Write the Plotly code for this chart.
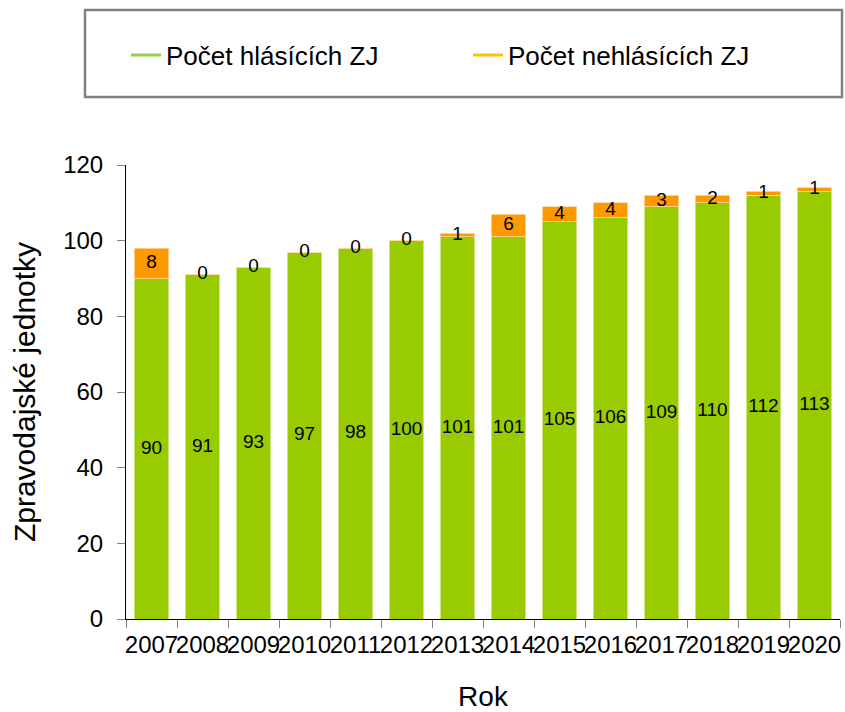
import plotly.graph_objects as go

years = ["2007", "2008", "2009", "2010", "2011", "2012", "2013", "2014", "2015", "2016", "2017", "2018", "2019", "2020"]
hlasici = [90, 91, 93, 97, 98, 100, 101, 101, 105, 106, 109, 110, 112, 113]
nehlasici = [8, 0, 0, 0, 0, 0, 1, 6, 4, 4, 3, 2, 1, 1]

name_h = "Počet hlásících ZJ"
name_n = "Počet nehlásících ZJ"
green = "#99CC00"
orange = "#FF9900"
font_family = "Liberation Sans, Arial, sans-serif"

fig = go.Figure()
fig.add_trace(go.Bar(x=years, y=hlasici, marker=dict(color=green, line=dict(color="#d8ec9a", width=0.8)),
                     showlegend=False, hoverinfo="skip"))
fig.add_trace(go.Bar(x=years, y=nehlasici, marker=dict(color=orange, line=dict(color="#ffd8a0", width=0.8)),
                     showlegend=False, hoverinfo="skip"))

# labels
fig.add_trace(go.Scatter(x=years, y=[v / 2 for v in hlasici], mode="text",
                         text=[str(v) for v in hlasici], textposition="middle center",
                         textfont=dict(size=19, color="black", family=font_family),
                         showlegend=False, hoverinfo="skip"))
fig.add_trace(go.Scatter(x=years, y=[h + n / 2 for h, n in zip(hlasici, nehlasici)], mode="text",
                         text=[str(v) for v in nehlasici], textposition="middle center",
                         textfont=dict(size=19, color="black", family=font_family),
                         showlegend=False, hoverinfo="skip"))

# legend entries (lines like the original)
fig.add_trace(go.Scatter(x=[None], y=[None], mode="lines", name=name_h,
                         line=dict(color="#92D050", width=3), legend="legend"))
fig.add_trace(go.Scatter(x=[None], y=[None], mode="lines", name=name_n,
                         line=dict(color="#FFC000", width=3), legend="legend2"))

leg_common = dict(orientation="h", yanchor="middle", y=1.2423, xanchor="left",
                  font=dict(size=26, family=font_family, color="black"),
                  bgcolor="rgba(0,0,0,0)", borderwidth=0, itemclick=False, itemdoubleclick=False)

fig.update_layout(
    width=845, height=712,
    barmode="stack", bargap=0.33,
    margin=dict(l=126, r=5, t=165, b=93, autoexpand=False),
    paper_bgcolor="white", plot_bgcolor="white",
    font=dict(family=font_family, color="black", size=20),
    showlegend=True,
    legend=dict(x=0.0, **leg_common),
    legend2=dict(x=0.4790, **leg_common),
    xaxis=dict(type="category", range=[-0.5, len(years) - 0.5], tickson="boundaries",
               ticks="outside", ticklen=8,
               tickcolor="#808080", showline=True, linecolor="black", linewidth=1,
               showgrid=False, tickfont=dict(size=24), tickangle=0, ticklabelstandoff=4,
               title=dict(text="Rok", font=dict(size=28), standoff=30)),
    yaxis=dict(range=[0, 120], dtick=20, ticks="outside", ticklen=8, tickcolor="#808080",
               showline=True, linecolor="black", linewidth=1, showgrid=False, zeroline=False,
               tickfont=dict(size=24), ticklabelstandoff=9,
               title=dict(text="Zpravodajské jednotky", font=dict(size=30), standoff=18)),
    shapes=[dict(type="rect", xref="paper", yref="paper",
                 x0=(85 - 126) / 714, x1=(842 - 126) / 714,
                 y0=(619 - 97) / 454, y1=(619 - 10) / 454,
                 line=dict(color="#808080", width=2.5), fillcolor="rgba(0,0,0,0)")],
)

fig.write_html("out.html", config={"displayModeBar": False},
               post_script="document.body.style.margin='0';document.body.style.overflow='hidden';")
